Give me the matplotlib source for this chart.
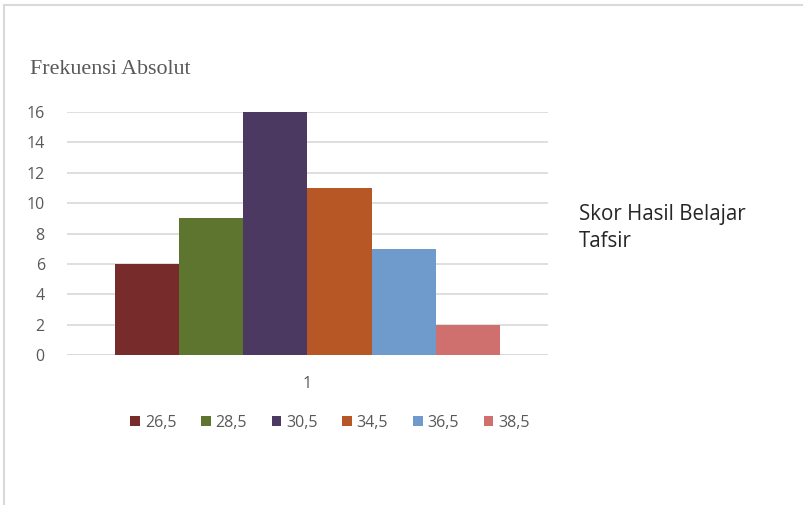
import matplotlib
matplotlib.use("Agg")
import matplotlib.pyplot as plt
from matplotlib.lines import Line2D
from matplotlib.patches import Patch

categories = ["1"]
series_labels = ["26,5", "28,5", "30,5", "34,5", "36,5", "38,5"]
series_values = [6, 9, 16, 11, 7, 2]
colors = ["#772B2B", "#5E7530", "#4B3961", "#B75726", "#6F9BCC", "#D0706E"]
yticks = [0, 2, 4, 6, 8, 10, 12, 14, 16]

W, H = 804, 505
fig = plt.figure(figsize=(W / 100, H / 100), dpi=100)
fig.patch.set_facecolor("white")

# frame lines (top and left)
fig.add_artist(Line2D([4.5 / W, 4.5 / W], [0, 1 - 4.5 / H], transform=fig.transFigure, color="#D9D9D9", lw=1.5))
fig.add_artist(Line2D([4.5 / W, 1], [1 - 4.5 / H, 1 - 4.5 / H], transform=fig.transFigure, color="#D9D9D9", lw=1.5))

left, right, top, bottom = 67, 548, 112, 355
ax = fig.add_axes([left / W, 1 - bottom / H, (right - left) / W, (bottom - top) / H])

n = len(series_values)
group_w = 0.8
bw = group_w / n
for i, (lab, v, c) in enumerate(zip(series_labels, series_values, colors)):
    x = 0 - group_w / 2 + bw * (i + 0.5)
    ax.bar(x, v, width=bw, color=c, label=lab, zorder=3)

ax.set_xlim(-0.5, 0.5)
ax.set_ylim(0, 16)
ax.set_xticks([0])
ax.set_xticklabels(categories)
ax.set_yticks(yticks)
ax.yaxis.grid(True, color="#D9D9D9", lw=1.2, zorder=0)
for s in ax.spines.values():
    s.set_visible(False)
ax.axhline(0, color="#D9D9D9", lw=1.2, zorder=2)
ax.tick_params(axis="both", length=0, labelsize=11.5, labelcolor="#595959")
ax.tick_params(axis="y", pad=16)
ax.tick_params(axis="x", pad=15)
for t in ax.get_xticklabels() + ax.get_yticklabels():
    t.set_fontfamily("Open Sans")

fig.text(30 / W, 1 - 70 / H, "Frekuensi Absolut", family="Liberation Serif", fontsize=15.8,
         color="#595959", va="center", ha="left")

fig.text(579 / W, 1 - 228 / H, "Skor Hasil Belajar\nTafsir", family="Open Sans", fontsize=14.8,
         color="#262626", va="center", ha="left", linespacing=1.35)

handles = [Patch(facecolor=c, label=l) for c, l in zip(colors, series_labels)]
leg = fig.legend(handles=handles, loc="center", bbox_to_anchor=(330 / W, 1 - 423 / H), ncol=6,
                 frameon=False, handlelength=0.6, handleheight=0.6, handletextpad=0.3,
                 columnspacing=1.55, prop={"family": "Open Sans", "size": 11.5})
for t in leg.get_texts():
    t.set_color("#595959")

fig.savefig("out.png", dpi=100, facecolor="white")
